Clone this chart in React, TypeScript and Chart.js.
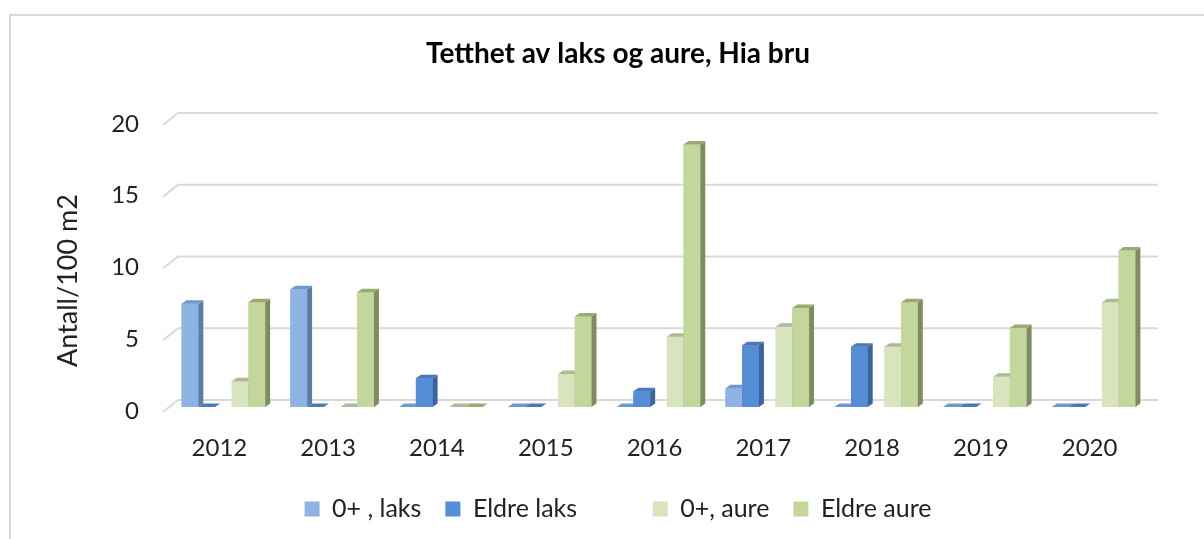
import React, { useEffect, useRef } from "react";
import { Chart, registerables } from "chart.js";

Chart.register(...registerables);

const categories = ["2012", "2013", "2014", "2015", "2016", "2017", "2018", "2019", "2020"];
const seriesNames = ["0+ , laks", "Eldre laks", "", "0+, aure", "Eldre aure"];
const laks0 = [7.2, 8.2, 0, 0, 0, 1.3, 0, 0, 0];
const laksEldre = [0, 0, 2.0, 0, 1.1, 4.3, 4.2, 0, 0];
const spacer = [null, null, null, null, null, null, null, null, null];
const aure0 = [1.8, 0, 0, 2.3, 4.9, 5.6, 4.2, 2.1, 7.3];
const aureEldre = [7.3, 8.0, 0, 6.3, 18.3, 6.9, 7.3, 5.5, 10.9];
const yMin = 0;
const yMax = 20;
const yStep = 5;

const titleText = "Tetthet av laks og aure, Hia bru";
const yTitleText = "Antall/100 m2";

const FONT = "Lato";
const frontColors = ["#8DB4E2", "#558ED5", "rgba(0,0,0,0)", "#D7E4BD", "#C3D69B"];
const sideColors = ["#5B7DA8", "#3A64A0", "rgba(0,0,0,0)", "#A3AE8E", "#7F8C62"];
const topColors = ["#7098C8", "#4A78B8", "rgba(0,0,0,0)", "#AEB998", "#9AAA72"];
const DX = 5;
const DY = 3.5;

const gridPlugin = {
  id: "grid3d",
  beforeDatasetsDraw(chart: any) {
    const { ctx, chartArea, scales } = chart;
    const y = scales.y;
    ctx.save();
    ctx.strokeStyle = "#D9D9D9";
    ctx.lineWidth = 2;
    y.ticks.forEach((t: any) => {
      const yy = y.getPixelForValue(t.value);
      ctx.beginPath();
      ctx.moveTo(chartArea.left - 6, yy + 5);
      ctx.lineTo(chartArea.left + 9, yy - 7);
      ctx.lineTo(chartArea.right + 10, yy - 7);
      ctx.stroke();
    });
    ctx.restore();
  },
};

const bar3dPlugin = {
  id: "bar3d",
  afterDatasetsDraw(chart: any) {
    const { ctx } = chart;
    ctx.save();
    chart.data.datasets.forEach((ds: any, di: number) => {
      const meta = chart.getDatasetMeta(di);
      if (!meta || meta.hidden) return;
      meta.data.forEach((el: any, i: number) => {
        const v = ds.data[i];
        if (v === null || v === undefined) return;
        const { x, y, base, width } = el.getProps(["x", "y", "base", "width"], true);
        const left = x - width / 2;
        const right = x + width / 2;
        const top = Math.min(y, base);
        const bottom = Math.max(y, base);
        ctx.fillStyle = frontColors[di];
        ctx.fillRect(left, top, width, bottom - top);
        ctx.fillStyle = sideColors[di];
        ctx.beginPath();
        ctx.moveTo(right, top);
        ctx.lineTo(right + DX, top - DY);
        ctx.lineTo(right + DX, bottom - DY);
        ctx.lineTo(right, bottom);
        ctx.closePath();
        ctx.fill();
        ctx.fillStyle = topColors[di];
        ctx.beginPath();
        ctx.moveTo(left, top);
        ctx.lineTo(left + DX, top - DY);
        ctx.lineTo(right + DX, top - DY);
        ctx.lineTo(right, top);
        ctx.closePath();
        ctx.fill();
      });
    });
    ctx.restore();
  },
};

const yTitlePlugin = {
  id: "ytitle",
  afterDraw(chart: any) {
    const { ctx, chartArea } = chart;
    ctx.save();
    ctx.translate(chartArea.left - 101, (chartArea.top + chartArea.bottom) / 2 + 17);
    ctx.rotate(-Math.PI / 2);
    ctx.textAlign = "center";
    ctx.textBaseline = "middle";
    ctx.font = `27px ${FONT}`;
    ctx.fillStyle = "#222";
    ctx.fillText(yTitleText, 0, 0);
    ctx.restore();
  },
};

export default function App() {
  const ref = useRef<HTMLCanvasElement | null>(null);

  useEffect(() => {
    if (!ref.current) return;
    const allSeries = [laks0, laksEldre, spacer, aure0, aureEldre];
    const chart = new Chart(ref.current, {
      type: "bar",
      data: {
        labels: categories,
        datasets: allSeries.map((d, i) => ({
          label: seriesNames[i],
          data: d,
          backgroundColor: frontColors[i],
          borderWidth: 0,
          barPercentage: 1,
          categoryPercentage: 0.768,
        })),
      },
      options: {
        animation: false,
        responsive: true,
        maintainAspectRatio: false,
        layout: { padding: { left: 32, right: 0, top: 0, bottom: 7.5 } },
        plugins: {
          title: {
            display: true,
            text: titleText,
            color: "#000",
            font: { family: FONT, size: 28, weight: "bold" },
            padding: { top: 36.7, bottom: 49.7 },
          },
          legend: {
            position: "bottom",
            labels: {
              font: { family: FONT, size: 25 },
              color: "#222",
              boxWidth: 15,
              boxHeight: 15,
              padding: 24,
            },
          },
          tooltip: { enabled: false },
        },
        scales: {
          x: {
            grid: { display: false },
            border: { display: false },
            ticks: {
              font: { family: FONT, size: 24 },
              color: "#222",
              padding: 19,
              labelOffset: -4,
            },
            afterFit: (s: any) => {
              s.height = 65.5;
            },
          },
          y: {
            min: yMin,
            max: yMax,
            grid: { display: false, drawTicks: false },
            border: { display: false },
            ticks: {
              stepSize: yStep,
              font: { family: FONT, size: 24 },
              color: "#222",
              padding: 30,
              labelOffset: 4,
            },
            afterFit: (s: any) => {
              s.width = 137;
            },
          },
          y1: {
            position: "right",
            min: 0,
            max: 1,
            grid: { display: false },
            border: { display: false },
            ticks: { display: false },
            afterFit: (s: any) => {
              s.width = 56;
            },
          },
        },
      },
      plugins: [gridPlugin, bar3dPlugin, yTitlePlugin],
    });
    return () => chart.destroy();
  }, []);

  return (
    <div
      style={{
        position: "fixed",
        left: 0,
        top: 0,
        width: 1204,
        height: 539,
        overflow: "hidden",
        background: "#fff",
      }}
    >
      <div
        style={{
          position: "absolute",
          left: 9,
          top: 14,
          width: 1300,
          height: 700,
          border: "2px solid #D9D9D9",
          boxSizing: "border-box",
        }}
      />
      <canvas ref={ref} style={{ position: "absolute", left: 0, top: 0, width: 1204, height: 539 }} />
    </div>
  );
}
